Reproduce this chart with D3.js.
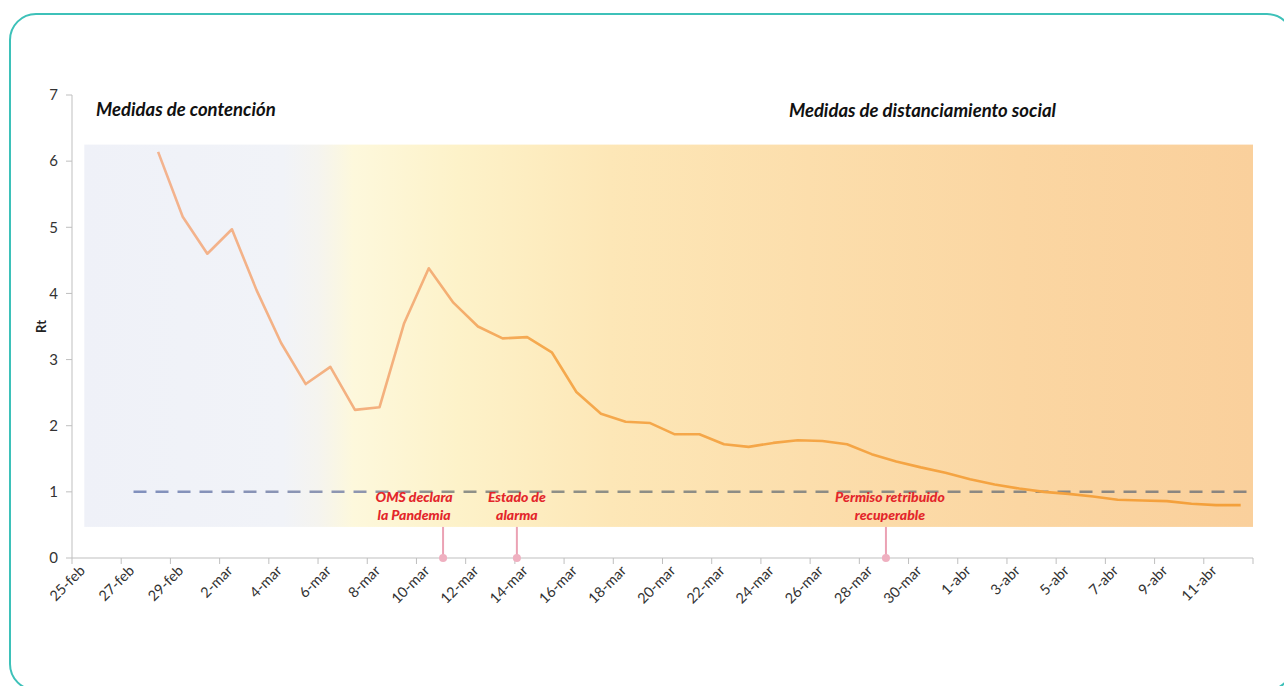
<!DOCTYPE html>
<html><head><meta charset="utf-8">
<script src="https://cdn.jsdelivr.net/npm/d3@7"></script>
<style>body{margin:0;background:#fff;} svg{display:block;}</style>
</head><body>
<script>
const categories = ["25-feb","26-feb","27-feb","28-feb","29-feb","1-mar","2-mar","3-mar","4-mar","5-mar","6-mar","7-mar","8-mar","9-mar","10-mar","11-mar","12-mar","13-mar","14-mar","15-mar","16-mar","17-mar","18-mar","19-mar","20-mar","21-mar","22-mar","23-mar","24-mar","25-mar","26-mar","27-mar","28-mar","29-mar","30-mar","31-mar","1-abr","2-abr","3-abr","4-abr","5-abr","6-abr","7-abr","8-abr","9-abr","10-abr","11-abr","12-abr"];
const rtValues = [null,null,null,6.14,5.16,4.60,4.97,4.05,3.25,2.63,2.89,2.24,2.28,3.55,4.38,3.86,3.50,3.32,3.34,3.11,2.51,2.18,2.06,2.04,1.87,1.87,1.72,1.68,1.74,1.78,1.77,1.72,1.57,1.46,1.37,1.29,1.19,1.11,1.05,1.00,0.97,0.93,0.88,0.87,0.86,0.82,0.80,0.80];
const yTicks = [0,1,2,3,4,5,6,7];
const threshold = 1;
const thresholdStart = "27-feb";
const bandRange = [0.47, 6.25];
const sectionTitles = ["Medidas de contención", "Medidas de distanciamiento social"];
const events = [
  {date:"11-mar", lines:["OMS declara","la Pandemia"]},
  {date:"14-mar", lines:["Estado de","alarma"]},
  {date:"29-mar", lines:["Permiso retribuido","recuperable"]}
];

const W = 1284, H = 686;
const svg = d3.select("body").append("svg").attr("width", W).attr("height", H);
const defs = svg.append("defs");

// frame
svg.append("rect").attr("x",10).attr("y",14).attr("width",1283).attr("height",676)
  .attr("rx",26).attr("fill","none").attr("stroke","#3dc1b9").attr("stroke-width",2);

const x = d3.scaleBand().domain(categories).range([72,1253]).padding(0);
const y = d3.scaleLinear().domain([0,7]).range([558,95]);
const cx = d => x(d) + x.bandwidth()/2;

// background band gradient
const bg = defs.append("linearGradient").attr("id","bandGrad").attr("gradientUnits","userSpaceOnUse")
  .attr("x1",cx(categories[0])).attr("x2",1253).attr("y1",0).attr("y2",0);
[[0,"#eff1f8"],[0.17,"#f1f3f8"],[0.2,"#f5f4ef"],[0.23,"#fdf8dc"],[0.32,"#fdf2c9"],[0.45,"#fde7b7"],[0.62,"#fcdeac"],[0.8,"#fbd6a2"],[1,"#fad09c"]]
  .forEach(([o,c]) => bg.append("stop").attr("offset",o).attr("stop-color",c));
svg.append("rect").attr("x",cx(categories[0])).attr("y",y(bandRange[1]))
  .attr("width",1253-cx(categories[0])).attr("height",y(bandRange[0])-y(bandRange[1]))
  .attr("fill","url(#bandGrad)");

// axes
const axisColor = "#bfbfbf", textColor = "#333";
const yAx = svg.append("g");
yAx.append("line").attr("x1",72).attr("x2",72).attr("y1",y(0)).attr("y2",y(7)).attr("stroke",axisColor);
yTicks.forEach(t => {
  yAx.append("line").attr("x1",66).attr("x2",72).attr("y1",y(t)).attr("y2",y(t)).attr("stroke",axisColor);
  yAx.append("text").attr("x",58).attr("y",y(t)).attr("dy","0.35em").attr("text-anchor","end")
    .attr("font-family","Lato, 'Open Sans', sans-serif").attr("font-size",15).attr("fill",textColor).text(t);
});
svg.append("text").attr("transform",`translate(46,${(y(3)+y(4))/2}) rotate(-90)`).attr("text-anchor","middle")
  .attr("font-family","Lato, sans-serif").attr("font-weight","bold").attr("font-size",13).attr("fill","#222").text("Rt");

const xAx = svg.append("g");
xAx.append("line").attr("x1",72).attr("x2",1253).attr("y1",y(0)).attr("y2",y(0)).attr("stroke",axisColor);
categories.forEach((c,i) => {
  if (i % 2 === 0) {
    xAx.append("line").attr("x1",x(c)).attr("x2",x(c)).attr("y1",y(0)).attr("y2",y(0)+6).attr("stroke",axisColor);
    xAx.append("text").attr("transform",`translate(${cx(c)-3},${y(0)+9}) rotate(-45)`)
      .attr("text-anchor","end").attr("dy","0.45em")
      .attr("font-family","Lato, 'Open Sans', sans-serif").attr("font-size",14.5).attr("fill",textColor).text(c);
  }
});
xAx.append("line").attr("x1",1253).attr("x2",1253).attr("y1",y(0)).attr("y2",y(0)+6).attr("stroke",axisColor);

// threshold dashed line
const dg = defs.append("linearGradient").attr("id","dashGrad").attr("gradientUnits","userSpaceOnUse")
  .attr("x1",cx(thresholdStart)).attr("x2",1253).attr("y1",0).attr("y2",0);
[[0,"#8190bd"],[0.2,"#8e96b0"],[0.28,"#8f9188"],[1,"#8a8580"]].forEach(([o,c]) => dg.append("stop").attr("offset",o).attr("stop-color",c));
svg.append("line").attr("x1",cx(thresholdStart)).attr("x2",1253).attr("y1",y(threshold)).attr("y2",y(threshold))
  .attr("stroke","url(#dashGrad)").attr("stroke-width",2.5).attr("stroke-dasharray","13,9");

// event markers
events.forEach(e => {
  const ex = x(e.date) + 2;
  svg.append("line").attr("x1",ex).attr("x2",ex).attr("y1",y(bandRange[0])).attr("y2",y(0))
    .attr("stroke","#eba2b4").attr("stroke-width",2);
  svg.append("circle").attr("cx",ex).attr("cy",y(0)).attr("r",4).attr("fill","#efb0c0");
});

// Rt line
const lg = defs.append("linearGradient").attr("id","lineGrad").attr("gradientUnits","userSpaceOnUse")
  .attr("x1",cx("28-feb")).attr("x2",cx("12-abr")).attr("y1",0).attr("y2",0);
[[0,"#f3b38f"],[0.25,"#f4b07a"],[0.35,"#f5a94e"],[1,"#f4a03a"]].forEach(([o,c]) => lg.append("stop").attr("offset",o).attr("stop-color",c));
const line = d3.line().defined(d => d[1] !== null).x(d => cx(d[0])).y(d => y(d[1]));
svg.append("path").datum(categories.map((c,i) => [c, rtValues[i]]))
  .attr("d",line).attr("fill","none").attr("stroke","url(#lineGrad)").attr("stroke-width",2.6)
  .attr("stroke-linejoin","round");

// event labels
const labelShift = {"11-mar": -29, "14-mar": 0, "29-mar": 4};
events.forEach(e => {
  const ex = x(e.date) + 2 + labelShift[e.date];
  const t = svg.append("text").attr("text-anchor","middle")
    .attr("font-family","Lato, sans-serif").attr("font-weight","900").attr("font-style","italic")
    .attr("font-size",14).attr("fill","#e3262b");
  e.lines.forEach((l,i) => t.append("tspan").attr("x", ex).attr("y",502+i*18).text(l));
});

// section titles
svg.append("text").attr("x",96).attr("y",116).attr("font-family","Lato, sans-serif").attr("font-weight","bold")
  .attr("font-style","italic").attr("font-size",18.5).attr("fill","#111").text(sectionTitles[0]);
svg.append("text").attr("x",1056).attr("y",117).attr("text-anchor","end").attr("font-family","Lato, sans-serif").attr("font-weight","bold")
  .attr("font-style","italic").attr("font-size",18.5).attr("fill","#111").text(sectionTitles[1]);
</script>
</body></html>
